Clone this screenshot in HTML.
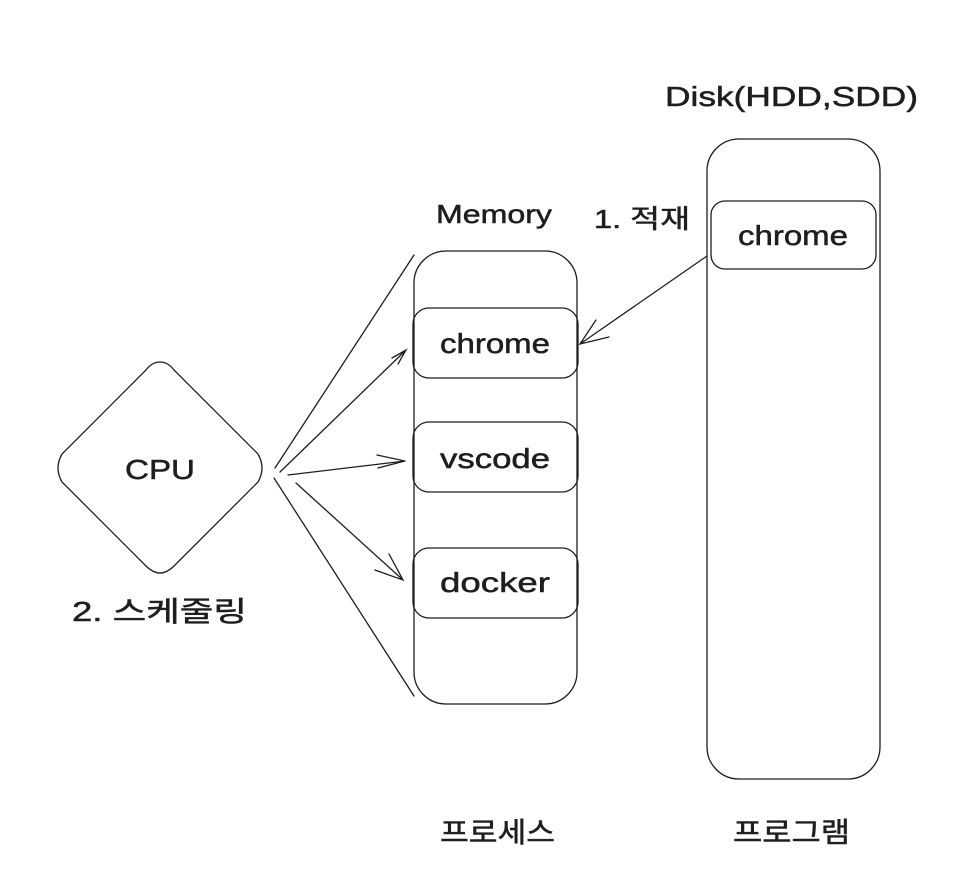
<!DOCTYPE html>
<html><head><meta charset="utf-8"><style>
html,body{margin:0;padding:0;background:#fff}
svg{display:block}
text{font-family:"Liberation Sans","Noto Sans CJK KR",sans-serif;fill:#1e1e1e;stroke:#1e1e1e;stroke-width:0.5}
</style></head><body>
<svg width="966" height="894" viewBox="0 0 966 894" xmlns="http://www.w3.org/2000/svg">
<g fill="none" stroke="#1e1e1e" stroke-width="1.3" stroke-linecap="round">
<rect x="414" y="251" width="163" height="453" rx="32"/>
<rect x="413" y="308" width="165" height="70" rx="16"/>
<rect x="413" y="422" width="165" height="70" rx="16"/>
<rect x="413" y="548" width="165" height="70" rx="16"/>
<rect x="707" y="139" width="173" height="640" rx="32"/>
<rect x="711" y="201" width="165" height="68" rx="14"/>
<path d="M160 362 Q168 362 174 370 L258 454 Q266 468 258 482 L174 566 Q160 580 146 566 L62 482 Q54 468 62 454 L146 370 Q152 362 160 362Z"/>
<path d="M275 468 L414 255"/>
<path d="M280 472 L406 350 M392 358 L406 350 L398 364"/>
<path d="M288 475 L405 461 M377 455 L405 461 L378 468"/>
<path d="M296 483 L403 580 M375 570 L403 580 L389 554"/>
<path d="M274 478 L414 696"/>
<path d="M707 256 L580 344 M596 320 L580 344 L609 337"/>
</g>
<g font-size="28" lengthAdjust="spacingAndGlyphs">
<text x="440" y="353" textLength="110" lengthAdjust="spacingAndGlyphs">chrome</text>
<text x="440" y="468" textLength="110" lengthAdjust="spacingAndGlyphs">vscode</text>
<text x="440" y="592" textLength="110" lengthAdjust="spacingAndGlyphs">docker</text>
<text x="738" y="245" textLength="110" lengthAdjust="spacingAndGlyphs">chrome</text>
<text x="125" y="479" textLength="70" lengthAdjust="spacingAndGlyphs">CPU</text>
<text x="665" y="106" textLength="253" lengthAdjust="spacingAndGlyphs">Disk(HDD,SDD)</text>
<text x="436" y="223" font-size="26" textLength="116" lengthAdjust="spacingAndGlyphs">Memory</text>
<text x="594" y="228" font-size="26" textLength="96" lengthAdjust="spacingAndGlyphs">1. 적재</text>
<text x="72" y="621" textLength="175" lengthAdjust="spacingAndGlyphs">2. 스케줄링</text>
<text x="440" y="842" textLength="115" lengthAdjust="spacingAndGlyphs">프로세스</text>
<text x="733" y="842" textLength="117" lengthAdjust="spacingAndGlyphs">프로그램</text>
</g>
</svg>
</body></html>
